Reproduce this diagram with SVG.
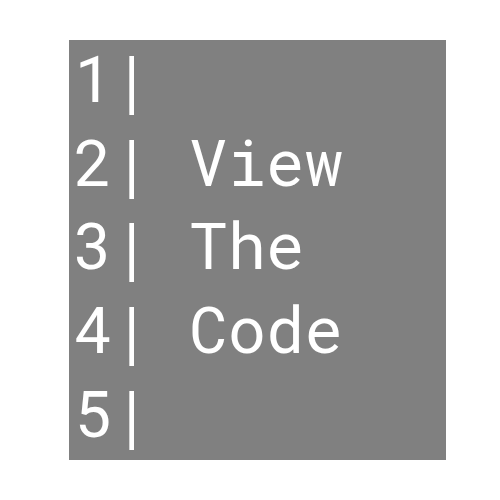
<svg xmlns="http://www.w3.org/2000/svg" width="500" height="500" viewBox="0 0 500 500">
<style>
.code{font-family:"Roboto Mono","DejaVu Sans Mono","Liberation Mono",monospace;font-size:64px;fill:#ffffff;white-space:pre}
</style>
<rect width="500" height="500" fill="#ffffff"/>
<g id="codeblock">
<rect x="69" y="40" width="377" height="420" fill="#808080"/>
<text class="code" x="74" y="102" xml:space="preserve">1|</text>
<text class="code" x="74" y="186" xml:space="preserve">2| View</text>
<text class="code" x="74" y="269" xml:space="preserve">3| The</text>
<text class="code" x="74" y="353" xml:space="preserve">4| Code</text>
<text class="code" x="74" y="437" xml:space="preserve">5|</text>
</g>
</svg>
